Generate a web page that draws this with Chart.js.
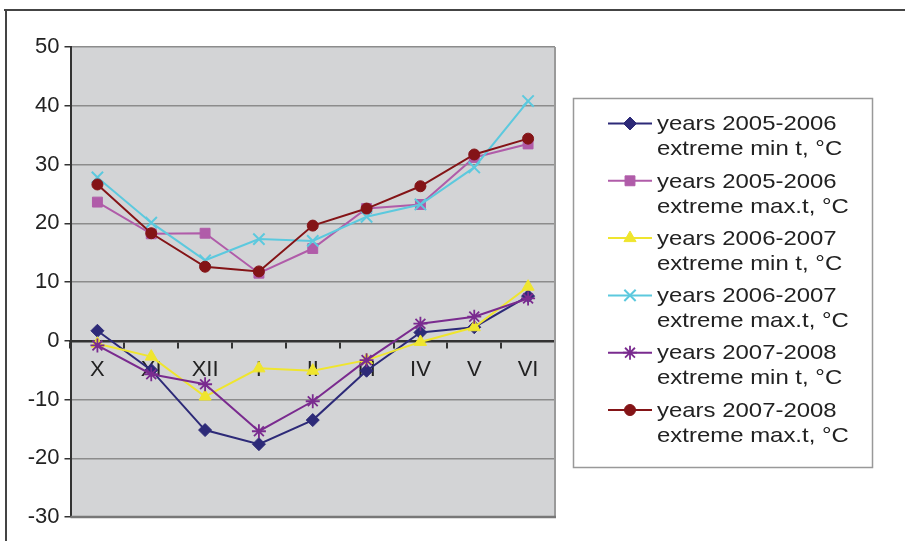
<!DOCTYPE html>
<html>
<head>
<meta charset="utf-8">
<script src="https://cdn.jsdelivr.net/npm/chart.js@4/dist/chart.umd.js"></script>
<style>
  html, body { margin: 0; padding: 0; background: #ffffff; }
  #wrap { width: 905px; height: 541px; position: relative; }
</style>
</head>
<body>
<div id="wrap"><canvas id="c" width="905" height="541"></canvas></div>
<script>
// Months of the season, October through June
const months = ['X', 'XI', 'XII', 'I', 'II', 'III', 'IV', 'V', 'VI'];

// Extreme temperatures, °C
const min0506 = [1.7, -5.0, -15.2, -17.6, -13.5, -5.1, 1.4, 2.3, 7.6];
const max0506 = [23.6, 18.2, 18.3, 11.5, 15.7, 22.5, 23.2, 31.2, 33.5];
const min0607 = [-0.5, -2.7, -9.5, -4.7, -5.1, -3.3, -0.2, 2.3, 9.2];
const max0607 = [27.8, 20.1, 13.7, 17.3, 17.0, 21.1, 23.2, 29.5, 40.8];
const min0708 = [-0.8, -5.7, -7.4, -15.4, -10.3, -3.3, 2.9, 4.1, 7.2];
const max0708 = [26.6, 18.3, 12.6, 11.8, 19.6, 22.5, 26.3, 31.7, 34.4];

// Legend text, two lines per series
const seasons = ['years 2005-2006', 'years 2005-2006', 'years 2006-2007', 'years 2006-2007', 'years 2007-2008', 'years 2007-2008'];
const measures = ['extreme min t, °C', 'extreme max.t, °C', 'extreme min t, °C', 'extreme max.t, °C', 'extreme min t, °C', 'extreme max.t, °C'];

// Value axis range
const yMin = -30, yMax = 50, yStep = 10;

const FONT = '"Liberation Sans", Arial, sans-serif';

const styles = [
  { color: '#2D2A78', point: 'rectRot',  radius: 6.5, bw: 1 },
  { color: '#B05CA9', point: 'rect',     radius: 7,   bw: 1 },
  { color: '#EFE52E', point: 'triangle', radius: 7,   bw: 1 },
  { color: '#5CC9DE', point: 'crossRot', radius: 8,   bw: 2 },
  { color: '#7A2B8F', point: 'star',     radius: 7,   bw: 1.8 },
  { color: '#841417', point: 'circle',   radius: 5.5, bw: 1 }
];
const seriesData = [min0506, max0506, min0607, max0607, min0708, max0708];

const datasets = seriesData.map((d, i) => ({
  label: seasons[i] + ' ' + measures[i],
  data: d,
  borderColor: styles[i].color,
  backgroundColor: styles[i].color,
  pointStyle: styles[i].point,
  pointRadius: styles[i].radius,
  pointHoverRadius: styles[i].radius,
  pointBorderWidth: styles[i].bw,
  pointBackgroundColor: styles[i].color,
  pointBorderColor: styles[i].color,
  borderWidth: 2,
  tension: 0,
  fill: false,
  order: 6 - i
}));

// Plot background, frame and the right edge of the plot
const framePlugin = {
  id: 'frame',
  beforeDraw(chart) {
    const { ctx, chartArea: a } = chart;
    ctx.save();
    ctx.fillStyle = '#ffffff';
    ctx.fillRect(0, 0, chart.width, chart.height);
    ctx.fillStyle = '#D3D4D6';
    ctx.fillRect(a.left, a.top, a.right - a.left, a.bottom - a.top);
    ctx.strokeStyle = '#444444';
    ctx.lineWidth = 2;
    ctx.beginPath();
    ctx.moveTo(4, 10);
    ctx.lineTo(905, 10);
    ctx.moveTo(6, 10);
    ctx.lineTo(6, 541);
    ctx.stroke();
    ctx.restore();
  },
  afterDraw(chart) {
    const { ctx, chartArea: a } = chart;
    ctx.save();
    ctx.strokeStyle = '#9a9a9a';
    ctx.lineWidth = 2;
    ctx.beginPath();
    ctx.moveTo(a.right, a.top);
    ctx.lineTo(a.right, a.bottom);
    ctx.stroke();
    ctx.strokeStyle = '#777777';
    ctx.lineWidth = 2.5;
    ctx.beginPath();
    ctx.moveTo(a.left, a.bottom);
    ctx.lineTo(a.right + 1, a.bottom);
    ctx.stroke();
    ctx.restore();
  }
};

// Boxed legend at the right
const legendPlugin = {
  id: 'boxLegend',
  afterDraw(chart) {
    const ctx = chart.ctx;
    ctx.save();
    ctx.strokeStyle = '#999999';
    ctx.lineWidth = 1.5;
    ctx.strokeRect(573.5, 98.5, 299, 369);
    chart.data.datasets.forEach((ds, i) => {
      const cy = 123.5 + i * 57.3;
      ctx.strokeStyle = ds.borderColor;
      ctx.lineWidth = 2;
      ctx.beginPath();
      ctx.moveTo(608, cy);
      ctx.lineTo(652, cy);
      ctx.stroke();
      ctx.fillStyle = ds.pointBackgroundColor;
      ctx.strokeStyle = ds.pointBorderColor;
      ctx.lineWidth = ds.pointBorderWidth;
      Chart.helpers.drawPoint(ctx, {
        pointStyle: ds.pointStyle, radius: ds.pointRadius, rotation: 0, borderWidth: ds.pointBorderWidth
      }, 630, cy);
      // legend text is set slightly wide
      ctx.save();
      ctx.translate(657, cy + 1);
      ctx.scale(1.14, 1);
      ctx.fillStyle = '#222222';
      ctx.font = '21px ' + FONT;
      ctx.textBaseline = 'middle';
      ctx.textAlign = 'left';
      ctx.fillText(seasons[i], 0, 0);
      ctx.fillText(measures[i], 0, 25);
      ctx.restore();
    });
    ctx.restore();
  }
};

new Chart(document.getElementById('c'), {
  type: 'line',
  data: { labels: months, datasets },
  options: {
    responsive: false,
    animation: false,
    events: [],
    layout: { padding: { left: 0, top: 47, right: 350, bottom: 24 } },
    plugins: { legend: { display: false }, tooltip: { enabled: false } },
    scales: {
      y: {
        min: yMin,
        max: yMax,
        afterFit(scale) { scale.width = 70.5; },
        ticks: { stepSize: yStep, color: '#222222', font: { family: FONT, size: 22 }, padding: 5 },
        grid: {
          color: (c) => c.tick && c.tick.value === yMin ? 'rgba(0,0,0,0)' : '#8c8c8c',
          lineWidth: 1.5,
          tickColor: '#333333',
          tickLength: 6,
          drawTicks: true
        },
        border: { display: true, color: '#333333', width: 2 }
      },
      x: {
        position: { y: 0 },
        offset: true,
        ticks: { color: '#222222', font: { family: FONT, size: 22 }, padding: 10, maxRotation: 0, autoSkip: false },
        grid: {
          offset: true,
          drawOnChartArea: false,
          drawTicks: true,
          tickLength: 6,
          tickColor: '#333333',
          lineWidth: 2
        },
        border: { display: true, color: '#333333', width: 2.5 }
      }
    }
  },
  plugins: [framePlugin, legendPlugin]
});
</script>
</body>
</html>
